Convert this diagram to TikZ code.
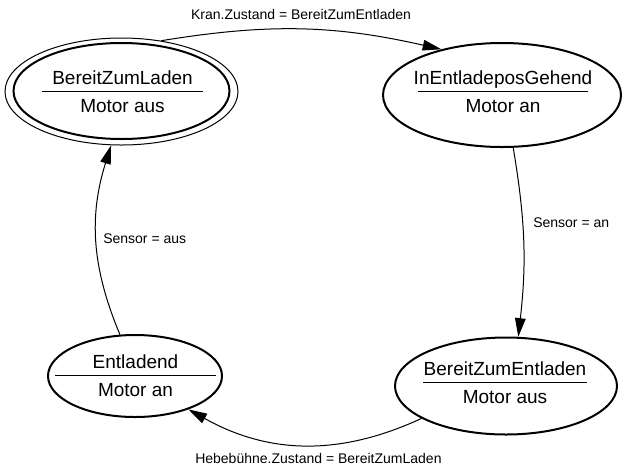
\documentclass[tikz,border=0pt]{standalone}
\usepackage{fontspec}
\setmainfont{Liberation Sans}
\usetikzlibrary{shapes.geometric, arrows.meta}

\setlength{\arrayrulewidth}{0.75pt}
\newcommand{\zst}[3]{\begin{tabular}{@{}c@{}}\makebox[#1]{#2}\\\hline\rule{0pt}{15pt}\makebox[#1]{#3}\end{tabular}}

\begin{document}
\begin{tikzpicture}[
  x=0.75pt, y=-0.75pt,
  >={Triangle[length=14pt, width=8pt]},
  state/.style={ellipse, draw, line width=1.5pt, inner sep=0pt},
  ring/.style={ellipse, draw, line width=0.75pt, inner sep=0pt},
  zustext/.style={inner sep=0pt, font=\fontsize{14.25}{17}\selectfont},
  trans/.style={->, line width=0.75pt},
  lbl/.style={font=\fontsize{10.5}{12.6}\selectfont, inner sep=0pt}
]
\useasboundingbox (0,0) rectangle (623,465);

% Zustaende
\node[ring, minimum width=174.75pt, minimum height=80.25pt] (ladenring) at (121.5,91.5) {};
\node[state, minimum width=162pt, minimum height=72pt] (laden) at (121.5,91) {};
\node[state, minimum width=178.5pt, minimum height=78pt] (gehend) at (502,95) {};
\node[state, minimum width=166.5pt, minimum height=72.75pt] (entladen) at (506,386) {};
\node[state, minimum width=130.5pt, minimum height=61.5pt] (entladend) at (135,376) {};

% Texte in den Zustaenden
\node[zustext] (ladentext) at (122.5,94) {\zst{120.75pt}{BereitZumLaden}{Motor aus}};
\node[zustext] (gehendtext) at (503,94) {\zst{127.5pt}{InEntladeposGehend}{Motor an}};
\node[zustext] (entladentext) at (505,385) {\zst{123pt}{BereitZumEntladen}{Motor aus}};
\node[zustext] (entladendtext) at (135.5,378) {\zst{120.75pt}{Entladend}{Motor an}};

% Uebergaenge
\draw[trans] (ladenring.52) to[bend left=11] (gehend.143);
\draw[trans] (gehend.-78) to[bend left=8] (entladen.76);
\draw[trans] (entladen.201) to[bend left=27] (entladend.328);
\draw[trans] (entladend.110) to[bend left=20] (ladenring.259);

% Bedingungen
\node[lbl] (kranlbl) at (301,14.5) {Kran.Zustand = BereitZumEntladen};
\node[lbl, anchor=west] (sensoranlbl) at (533,222.5) {Sensor = an};
\node[lbl, anchor=west] (sensorauslbl) at (103,238.5) {Sensor = aus};
\node[lbl, anchor=west] (hebelbl) at (195,458) {Hebebühne.Zustand = BereitZumLaden};

\end{tikzpicture}
\end{document}
